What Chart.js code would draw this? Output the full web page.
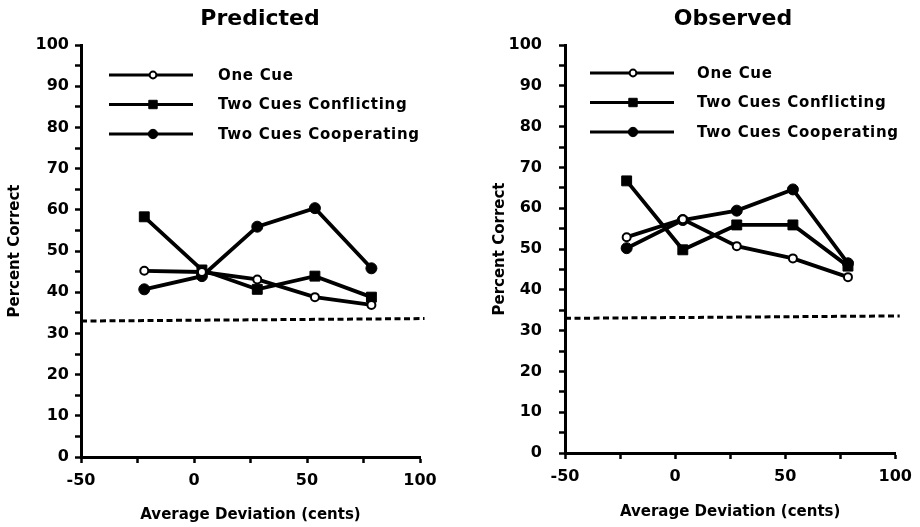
<!DOCTYPE html>
<html>
<head>
<meta charset="utf-8">
<script src="https://cdn.jsdelivr.net/npm/chart.js@4.4.0/dist/chart.umd.min.js"></script>
<style>
  body { margin: 0; background: #fff; }
  #wrap { position: relative; width: 920px; height: 527px; }
  canvas { position: absolute; top: 0; }
</style>
</head>
<body>
<div id="wrap">
  <canvas id="predicted" width="460" height="527" style="left:0"></canvas>
  <canvas id="observed" width="460" height="527" style="left:460px"></canvas>
</div>
<script>
// x positions of the five conditions (cents)
var deviation = [-22, 3.5, 28, 53.5, 78.5];
var seriesNames = ["One Cue", "Two Cues Conflicting", "Two Cues Cooperating"];

// Predicted panel
var predOneCue = [45.2, 44.9, 43.1, 38.8, 36.9];
var predConflicting = [58.3, 45.4, 40.7, 43.9, 38.8];
var predCooperating = [40.7, 43.9, 55.9, 60.4, 45.8];

// Observed panel
var obsOneCue = [52.9, 57.3, 50.7, 47.7, 43.1];
var obsConflicting = [66.7, 49.8, 55.9, 55.9, 45.8];
var obsCooperating = [50.2, 57.1, 59.4, 64.6, 46.5];

// chance level (dashed)
var chanceX = [-50, 102];
var chanceY = [33.0, 33.6];

var xTicks = [-50, 0, 50, 100];
var yTicks = [0, 10, 20, 30, 40, 50, 60, 70, 80, 90, 100];

Chart.defaults.font.family = "'DejaVu Sans', sans-serif";
Chart.defaults.font.weight = "bold";
Chart.defaults.color = "#000";

function drawMarker(ctx, ds, x, y, k) {
  var r = ds.pointRadius * k;
  ctx.beginPath();
  if (ds.pointStyle === "rect") {
    var s = r * Math.SQRT1_2;
    ctx.rect(x - s, y - s, 2 * s, 2 * s);
  } else {
    ctx.arc(x, y, r, 0, Math.PI * 2);
  }
  ctx.fillStyle = ds.pointBackgroundColor;
  ctx.fill();
  ctx.lineWidth = ds.pointBorderWidth;
  ctx.strokeStyle = "#000";
  ctx.stroke();
}

// panel title + line/marker legend
var panelDecor = {
  id: "panelDecor",
  afterDraw: function (chart, args, opts) {
    var ctx = chart.ctx, area = chart.chartArea;
    ctx.save();
    ctx.fillStyle = "#000";
    ctx.font = "bold 22px 'DejaVu Sans'";
    ctx.textAlign = "center";
    ctx.textBaseline = "middle";
    ctx.fillText(opts.title, opts.titleX, opts.titleY);

    ctx.font = "bold 15px 'DejaVu Sans'";
    ctx.letterSpacing = "0.7px";
    ctx.textAlign = "left";
    chart.data.datasets.forEach(function (ds, i) {
      if (seriesNames.indexOf(ds.label) < 0) return;
      var y = area.top + opts.legendTop + i * opts.legendGap;
      var x0 = area.left + opts.lineStart;
      ctx.beginPath();
      ctx.moveTo(x0, y);
      ctx.lineTo(x0 + opts.lineLen, y);
      ctx.lineWidth = 3;
      ctx.strokeStyle = "#000";
      ctx.stroke();
      drawMarker(ctx, ds, x0 + opts.markerAt, y, 0.85);
      ctx.fillStyle = "#000";
      ctx.fillText(ds.label, area.left + opts.textAt, y + 1);
    });
    ctx.restore();
  }
};

function makeDatasets(oneCue, conflicting, cooperating) {
  function pts(vals) {
    return deviation.map(function (x, i) { return { x: x, y: vals[i] }; });
  }
  var line = { borderColor: "#000", borderWidth: 3.8, pointBorderColor: "#000", tension: 0, fill: false };
  return [
    Object.assign({}, line, { label: seriesNames[0], data: pts(oneCue),
      pointStyle: "circle", pointRadius: 4, pointBackgroundColor: "#fff", pointBorderWidth: 2 }),
    Object.assign({}, line, { label: seriesNames[1], data: pts(conflicting),
      pointStyle: "rect", pointRadius: 7, pointBackgroundColor: "#000", pointBorderWidth: 1 }),
    Object.assign({}, line, { label: seriesNames[2], data: pts(cooperating),
      pointStyle: "circle", pointRadius: 5.5, pointBackgroundColor: "#000", pointBorderWidth: 1 }),
    { label: "chance", data: chanceX.map(function (x, i) { return { x: x, y: chanceY[i] }; }),
      borderColor: "#000", borderWidth: 3, borderDash: [6, 3.5], pointRadius: 0, clip: false }
  ];
}

function makeChart(id, datasets, p) {
  return new Chart(document.getElementById(id), {
    type: "line",
    data: { datasets: datasets },
    plugins: [panelDecor],
    options: {
      responsive: false,
      animation: false,
      events: [],
      layout: { padding: { top: 45, left: 0, right: p.padRight, bottom: 0 } },
      plugins: {
        legend: { display: false },
        tooltip: { enabled: false },
        panelDecor: p.decor
      },
      scales: {
        x: {
          type: "linear", min: -50, max: 100,
          ticks: {
            stepSize: 25, autoSkip: false, maxRotation: 0, padding: 8,
            font: { size: 16, weight: "bold" },
            callback: function (v) { return xTicks.indexOf(v) >= 0 ? String(v) : ""; }
          },
          grid: { drawOnChartArea: false, tickLength: 6, tickWidth: 2.5, tickColor: "#000" },
          border: { color: "#000", width: 3 },
          title: { display: true, text: "Average Deviation (cents)",
            font: { size: 15, weight: "bold" }, padding: { top: 0, bottom: p.xTitlePad } },
          afterFit: function (s) { s.height = p.xHeight; }
        },
        y: {
          type: "linear", min: 0, max: 100,
          ticks: {
            stepSize: 5, autoSkip: false, padding: p.yTickPad,
            font: { size: 16, weight: "bold" },
            callback: function (v) { return yTicks.indexOf(v) >= 0 ? String(v) : ""; }
          },
          grid: { drawOnChartArea: false, tickLength: 6, tickWidth: 2.5, tickColor: "#000" },
          border: { color: "#000", width: 3 },
          title: { display: true, text: "Percent Correct",
            font: { size: 15, weight: "bold" }, padding: { top: p.yTitlePad, bottom: 0 } },
          afterFit: function (s) { s.width = p.yWidth; }
        }
      }
    }
  });
}

makeChart("predicted", makeDatasets(predOneCue, predConflicting, predCooperating), {
  padRight: 40, yWidth: 81, xHeight: 70, yTickPad: 6, yTitlePad: 6, xTitlePad: 3,
  decor: { title: "Predicted", titleX: 260, titleY: 19,
    legendTop: 30, legendGap: 29.5, lineStart: 28, lineLen: 84, markerAt: 44, textAt: 137 }
});

makeChart("observed", makeDatasets(obsOneCue, obsConflicting, obsCooperating), {
  padRight: 21, yWidth: 105, xHeight: 74, yTickPad: 17, yTitlePad: 31, xTitlePad: 6,
  decor: { title: "Observed", titleX: 273, titleY: 19,
    legendTop: 28, legendGap: 29.5, lineStart: 25, lineLen: 84, markerAt: 43, textAt: 132 }
});
</script>
</body>
</html>
